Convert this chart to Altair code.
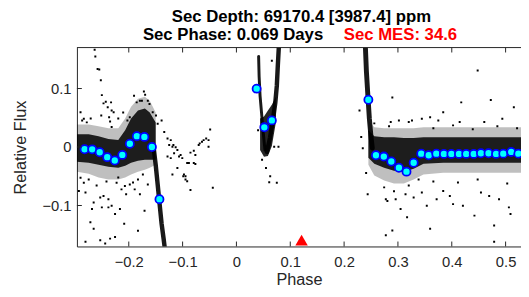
import altair as alt
import pandas as pd

# ---------------- data ----------------
# binned light-curve points (cyan circles)
bin_phase = [-0.282, -0.268, -0.254, -0.240, -0.226, -0.212, -0.198, -0.185, -0.171, -0.157, -0.143,
             0.0375, 0.0518, 0.0658,
             0.2451, 0.2592, 0.2738, 0.2877, 0.3018, 0.3159, 0.3292, 0.3433, 0.3572, 0.3713,
             0.3854, 0.3993, 0.4134, 0.4268, 0.4408, 0.4542, 0.4683, 0.4823, 0.4957, 0.5103, 0.5237]
bin_flux = [-0.0039, -0.0040, -0.0089, -0.0173, -0.0231, -0.0135, 0.0056, 0.0185, 0.0173, 0.0000, -0.0892,
            0.0998, 0.0337, 0.0455,
            0.0808, -0.0140, -0.0163, -0.0247, -0.0354, -0.0421, -0.0269, -0.0113, -0.0140, -0.0113,
            -0.0118, -0.0118, -0.0118, -0.0118, -0.0118, -0.0106, -0.0106, -0.0118, -0.0113, -0.0084, -0.0113]

# individual (sparse) flux samples
pt_phase = [-0.2634, -0.2621, -0.2579, -0.2548, -0.2519, -0.2500, -0.2469, -0.2427, -0.2391, -0.2329,
            -0.2318, -0.2365, -0.2511, -0.2281, -0.2896, -0.2866, -0.2835, -0.2347, -0.2318, -0.1719,
            -0.1696, -0.1756, -0.1646, -0.1853, -0.1615, -0.1555, -0.1494, -0.1390, -0.1463, -0.1341,
            -0.1280, -0.1220, -0.1171, -0.1129, -0.1097, -0.1037, -0.0640, -0.0609, -0.0562, -0.0518,
            -0.0488, -0.0682, -0.0792, -0.0854, -0.0763, -0.2025, -0.1981, -0.1249, -0.1189, -0.1066,
            -0.1006, -0.1280, -0.1220, -0.1097, -0.1189, -0.0988, -0.0946, -0.0915, -0.0854, -0.0883,
            -0.0763, -0.0701, -0.0518, -0.0439, -0.2896, -0.2835, -0.2927, -0.2804, -0.2683, -0.2713,
            -0.2652, -0.2530, -0.2469, -0.2378, -0.2318, -0.2255, -0.2164, -0.2378, -0.2500, -0.2804,
            -0.2530, -0.2438, -0.2347, -0.2255, -0.1707, -0.1890, -0.1981, -0.2135, -0.2072, -0.2226,
            -0.1829, -0.1738, -0.1158, -0.0975, -0.0946, -0.0792, -0.0915, -0.2744, -0.2597, -0.2414,
            -0.2195, -0.2049, -0.1921, -0.1646, -0.1793, -0.2652, -0.2085, -0.1829, -0.2780, -0.2707,
            -0.2195, -0.2104, -0.1902, -0.1793,
            0.0549, 0.0627, 0.0609, 0.0750, 0.0781, 0.0701, 0.0658, 0.0476, 0.0402,
            0.2286, 0.2318, 0.2347, 0.2409, 0.2438, 0.2896, 0.2866, 0.3018, 0.3201, 0.2775,
            0.2804, 0.2958, 0.3049, 0.3170, 0.2775, 0.2896, 0.3141, 0.4481, 0.4176, 0.4725,
            0.5153, 0.3841, 0.3598, 0.3444, 0.4147, 0.3261, 0.3750, 0.4604, 0.4939, 0.4024,
            0.3719, 0.3536, 0.3292, 0.4207, 0.4421, 0.4878, 0.5061, 0.5091, 0.3598, 0.4787,
            0.4787, 0.4542, 0.4695, 0.3964, 0.3444, 0.3841, 0.2561, 0.2835, 0.3658, 0.4024,
            0.4390, 0.4847, 0.5213, 0.2744, 0.3201, 0.3658, 0.4115, 0.4481, 0.5030, 0.2927,
            0.3384]
pt_flux = [0.1662, 0.1549, 0.1335, 0.1325, 0.1140, 0.0887, 0.0746, 0.0774, 0.0678, 0.0763,
           0.0623, 0.0510, 0.0539, 0.0594, 0.0594, 0.0455, 0.0483, 0.0438, 0.0342, 0.0948,
           0.0892, 0.0791, 0.0791, 0.0763, 0.0736, 0.0594, 0.0539, 0.0455, 0.0399, 0.0258,
           0.0146, 0.0118, 0.0034, -0.0005, -0.0051, -0.0135, 0.0089, 0.0118, 0.0146, 0.0118,
           0.0298, 0.0062, -0.0062, -0.0096, -0.0135, 0.0455, 0.0510, 0.0034, 0.0005, -0.0163,
           -0.0190, -0.0163, -0.0190, -0.0359, -0.0471, -0.0500, -0.0500, -0.0584, -0.0736, -0.0274,
           -0.0291, 0.0034, 0.0005, -0.0695, -0.0527, -0.0611, -0.0753, -0.0779, -0.1061, -0.1285,
           -0.0948, -0.0864, -0.0837, -0.0892, -0.1005, -0.1145, -0.1061, -0.1032, -0.1032, -0.1621,
           -0.1594, -0.1650, -0.1566, -0.1537, -0.1089, -0.0724, -0.0640, -0.0724, -0.0668, -0.0611,
           -0.0556, -0.0471, -0.0106, -0.0471, -0.0556, -0.0274, -0.0274, -0.0556, -0.0657, -0.0589,
           -0.0522, -0.0808, -0.0606, -0.0640, -0.0808, -0.1397, -0.1313, -0.1431, 0.0421, 0.0488,
           0.0488, 0.0589, 0.0875, 0.0791,
           -0.0359, -0.0500, -0.0601, -0.0611, 0.0005, 0.0005, 0.1476, -0.0219, 0.0286,
           0.0623, 0.0173, -0.0022, -0.0443, -0.0808, 0.0847, 0.0426, 0.0455, 0.0426, -0.0892,
           -0.0921, -0.0892, -0.1061, -0.1200, -0.1510, -0.1426, -0.0808, 0.1308, 0.0763, 0.0803,
           0.0678, 0.0594, 0.0510, 0.0483, 0.0426, 0.0455, 0.0455, 0.0426, 0.0483, -0.0976,
           -0.0892, -0.1005, -0.0864, -0.1005, -0.1173, -0.0892, -0.1032, -0.1145, -0.1397, -0.1342,
           -0.1621, -0.0779, -0.0837, -0.0837, -0.0779, -0.0753, 0.0404, 0.0354, 0.0320, 0.0370,
           0.0303, 0.0354, 0.0320, -0.0690, -0.0657, -0.0589, -0.0606, -0.0556, -0.0623, -0.0758,
           -0.0556]

# dense parts of the folded light curve: envelopes (phase, inner lo/hi, outer lo/hi)
left_band_phase = [-0.2963, -0.2744, -0.2561, -0.2378, -0.2195, -0.2067, -0.1957, -0.1829, -0.1701, -0.1610, -0.1500]
left_inner_hi = [0.0219, 0.0219, 0.0185, 0.0135, 0.0118, 0.0286, 0.0488, 0.0623, 0.0657, 0.0589, 0.0421]
left_inner_lo = [-0.0253, -0.0269, -0.0303, -0.0337, -0.0354, -0.0320, -0.0269, -0.0236, -0.0219, -0.0219, -0.0219]
left_outer_hi = [0.0387, 0.0387, 0.0354, 0.0320, 0.0320, 0.0488, 0.0690, 0.0825, 0.0859, 0.0791, 0.0589]
left_outer_lo = [-0.0421, -0.0455, -0.0522, -0.0556, -0.0556, -0.0522, -0.0471, -0.0421, -0.0387, -0.0354, -0.0303]

right_band_phase = [0.2451, 0.2561, 0.2744, 0.2927, 0.3110, 0.3292, 0.3475, 0.3841, 0.4390, 0.4939, 0.5286]
right_inner_hi = [0.0286, 0.0185, 0.0168, 0.0168, 0.0152, 0.0152, 0.0168, 0.0168, 0.0168, 0.0168, 0.0168]
right_inner_lo = [-0.0185, -0.0286, -0.0354, -0.0404, -0.0421, -0.0370, -0.0286, -0.0269, -0.0269, -0.0269, -0.0269]
right_outer_hi = [0.0455, 0.0337, 0.0320, 0.0320, 0.0320, 0.0320, 0.0337, 0.0337, 0.0337, 0.0337, 0.0337]
right_outer_lo = [-0.0303, -0.0488, -0.0572, -0.0623, -0.0623, -0.0556, -0.0471, -0.0438, -0.0438, -0.0438, -0.0438]

v_base_phase = [0.0439, 0.0512, 0.0585, 0.0658, 0.0732]
v_base_hi = [0.0488, 0.0522, 0.0623, 0.0724, 0.0859]
v_base_lo = [-0.0051, -0.0168, -0.0152, 0.0017, 0.0421]

# steep ingress / egress streaks
tail_left_phase = [-0.1537, -0.1500, -0.1463, -0.1427, -0.1390, -0.1353, -0.1335]
tail_left_flux = [-0.0017, -0.0303, -0.0640, -0.0976, -0.1313, -0.1566, -0.1700]
rise_right_phase = [0.2396, 0.2414, 0.2442, 0.2469, 0.2497, 0.2524]
rise_right_flux = [0.1700, 0.1296, 0.0875, 0.0488, 0.0202, -0.0017]
v_left_phase = [0.0412, 0.0421, 0.0439, 0.0466, 0.0494, 0.0530]
v_left_flux = [0.1549, 0.1212, 0.0875, 0.0589, 0.0286, -0.0051]
v_right_phase = [0.0787, 0.0768, 0.0750, 0.0722, 0.0677, 0.0622, 0.0567]
v_right_flux = [0.1700, 0.1380, 0.1044, 0.0758, 0.0455, 0.0152, -0.0084]

marker_phase = [0.121]
marker_flux = [-0.159]

x_ticks = [-0.2, -0.1, 0.0, 0.1, 0.2, 0.3, 0.4, 0.5]
y_ticks = [-0.1, 0.0, 0.1]
title_line1 = ["Sec Depth: 69170.4 [3987.4] ppm"]
title_line2a = ["Sec Phase: 0.069 Days"]
title_line2b = ["Sec MES: 34.6"]

# ---------------- styling ----------------
W, H = 451, 202
AX = "#262626"
FONT = "Liberation Sans"
xs = alt.Scale(domain=[-0.2963, 0.5286], nice=False, zero=False)
ys = alt.Scale(domain=[-0.17, 0.17], nice=False, zero=False)
stroke_widths = {"tail_left": 4.5, "rise_right": 5, "v_left": 3, "v_right": 4.5}

# ---------------- tables ----------------
bins = pd.DataFrame({"phase": bin_phase, "flux": bin_flux})
pts = pd.DataFrame({"phase": pt_phase, "flux": pt_flux})

outer = pd.concat([
    pd.DataFrame({"phase": left_band_phase, "flux": left_outer_lo, "hi": left_outer_hi, "seg": "L"}),
    pd.DataFrame({"phase": right_band_phase, "flux": right_outer_lo, "hi": right_outer_hi, "seg": "R"}),
])
inner = pd.concat([
    pd.DataFrame({"phase": left_band_phase, "flux": left_inner_lo, "hi": left_inner_hi, "seg": "L"}),
    pd.DataFrame({"phase": right_band_phase, "flux": right_inner_lo, "hi": right_inner_hi, "seg": "R"}),
    pd.DataFrame({"phase": v_base_phase, "flux": v_base_lo, "hi": v_base_hi, "seg": "V"}),
])

streak_parts = []
for name, ph, fl in [("tail_left", tail_left_phase, tail_left_flux),
                     ("rise_right", rise_right_phase, rise_right_flux),
                     ("v_left", v_left_phase, v_left_flux),
                     ("v_right", v_right_phase, v_right_flux)]:
    streak_parts.append(pd.DataFrame({"phase": ph, "flux": fl, "seg": name,
                                      "i": list(range(len(ph))), "w": stroke_widths[name]}))
streaks = pd.concat(streak_parts)

axis_x = alt.Axis(values=x_ticks, format="~g", title="Phase", grid=False, ticks=False,
                  domainColor=AX, domainWidth=1, labelColor=AX, labelFontSize=15,
                  labelFont=FONT, labelPadding=8, titleFont=FONT, titleFontSize=16.5,
                  titleFontWeight="normal", titleColor=AX, titlePadding=3, labelFlush=False)
axis_y = alt.Axis(values=y_ticks, format="~g", title="Relative Flux", grid=False, ticks=False,
                  domainColor=AX, domainWidth=1, labelColor=AX, labelFontSize=15,
                  labelFont=FONT, labelPadding=6, titleFont=FONT, titleFontSize=16.5,
                  titleFontWeight="normal", titleColor=AX, titlePadding=14, labelFlush=False)


def X(field="phase:Q"):
    return alt.X(field, scale=xs, axis=axis_x)


def Y(field="flux:Q"):
    return alt.Y(field, scale=ys, axis=axis_y)


outer_layer = alt.Chart(outer).mark_area(color="black", opacity=0.25, clip=True).encode(
    x=X(), y=Y(), y2="hi:Q", detail="seg:N")

inner_layer = alt.Chart(inner).mark_area(color="black", opacity=0.85, clip=True).encode(
    x=X(), y=Y(), y2="hi:Q", detail="seg:N")

streak_layer = alt.Chart(streaks).mark_line(color="black", opacity=0.9, clip=True,
                                            strokeCap="round").encode(
    x=X(), y=Y(), detail="seg:N",
    order="i:Q", strokeWidth=alt.StrokeWidth("w:Q", scale=None))

pt_layer = alt.Chart(pts).mark_square(color="black", size=4, opacity=1, clip=True).encode(
    x=X(), y=Y())

bin_layer = alt.Chart(bins).mark_point(shape="circle", size=68, fill="#00FFFF", stroke="#0000FF",
                                       strokeWidth=1.8, opacity=1, fillOpacity=1).encode(
    x=X(), y=Y())

marker_layer = alt.Chart(pd.DataFrame({"phase": marker_phase, "flux": marker_flux})).mark_point(
    shape="triangle-up", size=160, filled=True, color="#FF0000", opacity=1).encode(
    x=X(), y=Y())

xt = pd.DataFrame({"phase": x_ticks})
yt = pd.DataFrame({"flux": y_ticks})
tick_bottom = alt.Chart(xt).mark_rule(color=AX, strokeWidth=1).encode(
    x=X(), y=alt.value(H), y2=alt.value(H - 5))
tick_top = alt.Chart(xt).mark_rule(color=AX, strokeWidth=1).encode(
    x=X(), y=alt.value(0), y2=alt.value(5))
tick_left = alt.Chart(yt).mark_rule(color=AX, strokeWidth=1).encode(
    y=Y(), x=alt.value(0), x2=alt.value(5))
top_border = alt.Chart(xt.head(1)).mark_rule(color=AX, strokeWidth=1).encode(
    x=alt.value(0), x2=alt.value(W), y=alt.value(0))

t1 = alt.Chart(pd.DataFrame({"t": title_line1})).mark_text(
    font=FONT, fontSize=17, fontWeight="bold", color="black", align="center",
    baseline="alphabetic").encode(text="t:N", x=alt.value(228), y=alt.value(-26))
t2 = alt.Chart(pd.DataFrame({"t": title_line2a})).mark_text(
    font=FONT, fontSize=17, fontWeight="bold", color="black", align="left",
    baseline="alphabetic").encode(text="t:N", x=alt.value(67), y=alt.value(-8))
t3 = alt.Chart(pd.DataFrame({"t": title_line2b})).mark_text(
    font=FONT, fontSize=17, fontWeight="bold", color="#FF0000", align="left",
    baseline="alphabetic").encode(text="t:N", x=alt.value(271), y=alt.value(-8))

chart = alt.layer(
    outer_layer, inner_layer, streak_layer, pt_layer, bin_layer, marker_layer,
    tick_bottom, tick_top, tick_left, top_border, t1, t2, t3
).properties(
    width=W, height=H,
    autosize=alt.AutoSizeParams(type="none"),
    padding={"left": 70, "top": 38, "right": 0, "bottom": 40},
    background="white",
).configure_view(stroke=None)

chart.save("out.html", embed_options={"renderer": "svg", "actions": False})
